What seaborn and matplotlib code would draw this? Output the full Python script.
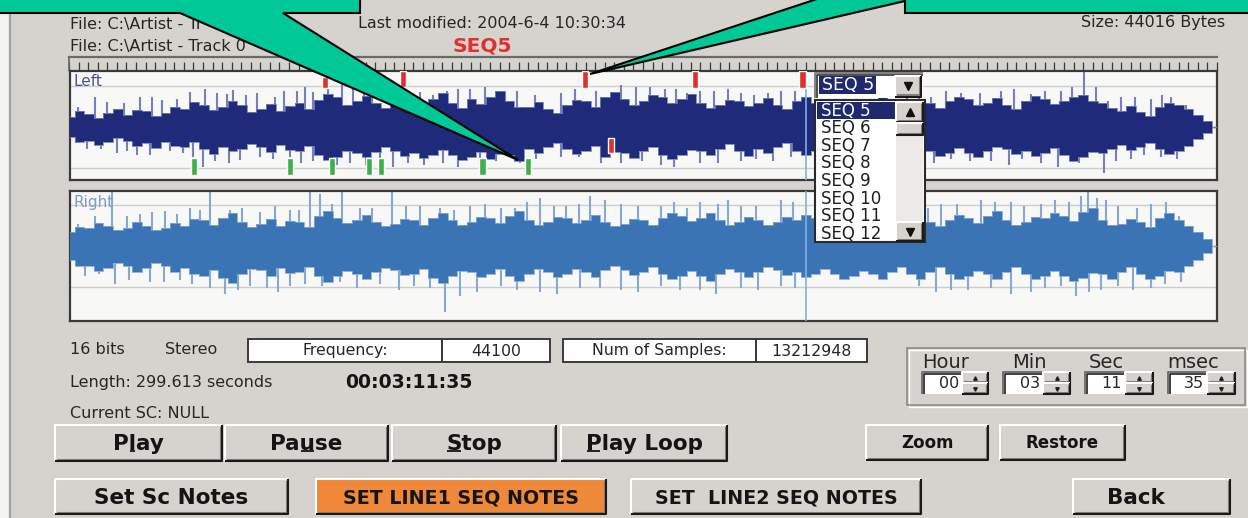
import numpy as np
import pandas as pd
import seaborn as sns
import matplotlib.pyplot as plt
from matplotlib.patches import Rectangle, Polygon
from matplotlib.ticker import MultipleLocator

# ---- values ----
# waveform envelope, one reading every 2.5 s of the 300 s track (amplitude in screen px)
left_upper = [10, 16, 13, 9, 14, 18, 12, 17, 16, 11, 14, 20, 18, 25, 22, 17, 20, 26, 22, 15,
              18, 23, 16, 21, 24, 18, 27, 33, 30, 22, 26, 31, 24, 19, 22, 28, 26, 21, 28, 34,
              24, 19, 28, 23, 30, 36, 26, 20, 20, 25, 18, 14, 22, 27, 26, 20, 30, 35, 28, 22,
              26, 32, 30, 24, 28, 33, 24, 19, 22, 27, 26, 21, 24, 29, 22, 18, 26, 30, 24, 19,
              22, 27, 24, 20, 26, 31, 24, 19, 22, 27, 24, 19, 26, 30, 28, 22, 24, 29, 22, 18,
              26, 31, 28, 23, 26, 30, 32, 26, 24, 19, 16, 21, 15, 11, 20, 24, 22, 18, 12, 6, 0]
left_lower = [10, 15, 14, 18, 15, 11, 14, 19, 16, 21, 15, 19, 20, 15, 22, 27, 20, 24, 22, 17,
              20, 25, 18, 23, 24, 19, 28, 33, 30, 24, 26, 30, 25, 20, 24, 29, 26, 31, 28, 23,
              28, 33, 30, 25, 32, 27, 28, 34, 22, 26, 20, 16, 22, 27, 24, 19, 30, 25, 26, 31,
              24, 20, 28, 32, 28, 23, 24, 28, 22, 17, 24, 29, 22, 26, 20, 16, 24, 28, 24, 20,
              22, 27, 24, 19, 26, 31, 24, 28, 24, 19, 24, 29, 26, 21, 26, 30, 24, 20, 22, 27,
              24, 29, 26, 21, 28, 34, 30, 25, 26, 22, 18, 23, 20, 16, 22, 27, 24, 19, 12, 6, 0]
right_upper = [14, 19, 18, 23, 20, 16, 18, 24, 20, 16, 18, 23, 20, 27, 26, 21, 28, 33, 24, 19,
               22, 27, 20, 25, 24, 19, 30, 35, 28, 23, 26, 31, 24, 20, 22, 27, 26, 21, 28, 33,
               26, 21, 24, 29, 28, 23, 30, 35, 26, 21, 24, 29, 28, 23, 26, 31, 24, 20, 22, 27,
               26, 21, 28, 33, 30, 25, 28, 33, 26, 21, 24, 29, 26, 21, 24, 29, 26, 31, 28, 23,
               30, 35, 28, 23, 26, 31, 28, 23, 26, 31, 24, 20, 26, 31, 28, 23, 30, 35, 26, 21,
               24, 29, 28, 33, 30, 25, 34, 38, 26, 21, 22, 27, 24, 19, 28, 33, 26, 20, 14, 7, 0]
right_lower = [14, 20, 20, 25, 22, 17, 20, 26, 22, 17, 20, 26, 22, 28, 30, 24, 32, 37, 28, 23,
               24, 30, 22, 27, 26, 21, 30, 36, 30, 25, 28, 33, 26, 22, 24, 29, 28, 23, 32, 37,
               30, 25, 26, 31, 28, 23, 30, 35, 28, 23, 26, 31, 28, 23, 26, 31, 24, 20, 24, 29,
               26, 21, 28, 33, 30, 25, 30, 35, 28, 23, 26, 31, 26, 21, 24, 29, 26, 31, 28, 23,
               28, 33, 30, 25, 28, 33, 26, 21, 28, 33, 26, 21, 28, 33, 30, 25, 28, 33, 26, 21,
               28, 33, 30, 25, 30, 35, 32, 27, 28, 33, 26, 21, 28, 33, 30, 25, 26, 20, 14, 7, 0]

# single peaks that stick out of the envelope (time s, height px)
left_up_t = [6.5, 9.7, 18.3, 24.1, 31.4, 35.3, 41.1, 42.7, 49.0, 53.7, 59.4, 61.5, 63.6, 71.2,
             74.1, 79.1, 91.6, 98.7, 104.7, 113.9, 128.3, 144.0, 151.8, 158.4, 164.9, 175.4,
             185.9, 225.1, 233.0, 243.5, 251.3, 259.2, 265.2, 268.3, 274.9, 282.7, 288.0,
             2.0, 14.0, 21.5, 28.0, 38.5, 46.0, 56.0, 67.5, 77.0, 84.0, 88.5, 95.0, 101.5,
             108.5, 117.0, 121.5, 132.0, 137.5, 148.0, 155.5, 161.5, 168.5, 172.0, 179.0,
             182.5, 189.5, 219.0, 222.0, 229.0, 238.0, 247.0, 255.0, 262.0, 271.5, 278.5,
             285.5, 292.0]
left_up_h = [30, 25, 30, 27, 35, 38, 33, 37, 34, 30, 36, 40, 35, 44, 38, 36, 35, 36, 38, 35,
             34, 42, 40, 38, 36, 34, 36, 30, 34, 36, 33, 36, 55, 40, 30, 28, 30,
             20, 24, 30, 28, 34, 32, 36, 40, 38, 34, 36, 32, 38, 40, 36, 32, 38, 36, 40, 38,
             34, 36, 38, 32, 34, 36, 34, 32, 36, 34, 38, 36, 40, 26, 30, 32, 22]
left_dn_t = [4.5, 12.3, 17.5, 26.2, 32.2, 34.8, 44.5, 49.7, 63.6, 69.9, 73.3, 84.6, 97.6, 107.3,
             117.8, 128.3, 144.0, 154.5, 164.9, 175.4, 188.5, 230.4, 240.8, 253.9, 270.4, 277.5,
             285.3, 1.5, 8.0, 15.0, 21.0, 29.5, 38.0, 41.5, 53.0, 57.5, 60.5, 66.5, 77.5, 81.0,
             88.5, 92.5, 101.5, 111.5, 122.0, 133.0, 139.0, 149.5, 158.0, 169.5, 179.5, 184.0,
             221.0, 226.0, 235.5, 245.5, 249.0, 258.5, 264.0, 273.5, 281.0, 289.5]
left_dn_h = [22, 26, 28, 24, 30, 40, 33, 30, 34, 38, 36, 40, 36, 38, 36, 30, 36, 38, 36, 34,
             30, 32, 34, 36, 46, 32, 30, 16, 22, 24, 28, 26, 34, 36, 32, 30, 36, 32, 38, 34,
             36, 38, 40, 34, 32, 30, 36, 34, 40, 36, 32, 34, 30, 36, 34, 38, 32, 40, 36, 34,
             28, 32]
right_up_t = [6.5, 11.0, 18.3, 24.9, 31.4, 36.6, 41.9, 49.7, 57.6, 62.8, 65.4, 71.2, 75.9, 84.3,
              91.6, 96.9, 104.7, 112.6, 123.0, 129.6, 136.1, 144.0, 154.5, 164.9, 175.4, 185.9,
              227.7, 238.2, 246.1, 253.9, 261.3, 264.4, 266.2, 270.9, 282.7, 286.6,
              2.0, 15.0, 21.5, 28.0, 34.0, 45.0, 53.5, 60.0, 68.5, 79.0, 88.0, 100.5, 108.5,
              116.5, 119.5, 126.5, 133.0, 140.0, 148.5, 158.0, 161.5, 169.5, 172.0, 179.5,
              189.0, 221.0, 224.5, 232.0, 242.0, 249.5, 257.5, 268.5, 274.0, 279.0, 290.0]
right_up_h = [30, 54, 32, 35, 38, 54, 36, 34, 36, 54, 52, 54, 38, 54, 40, 38, 40, 38, 48, 40,
              50, 42, 40, 44, 40, 46, 42, 46, 44, 42, 44, 50, 55, 46, 42, 44,
              22, 30, 34, 32, 36, 38, 40, 36, 42, 38, 40, 36, 42, 38, 44, 40, 42, 46, 40, 44,
              38, 42, 46, 40, 44, 40, 38, 42, 44, 40, 46, 48, 40, 38, 30]
right_dn_t = [3.9, 11.8, 20.9, 28.8, 36.6, 40.6, 47.1, 57.6, 70.7, 81.2, 94.2, 98.2, 102.1, 112.6,
              123.0, 133.5, 144.0, 154.5, 164.9, 175.4, 185.9, 230.4, 240.8, 251.3, 259.2, 263.1,
              269.6, 282.7, 290.6, 7.5, 15.5, 24.5, 32.0, 44.0, 51.5, 54.5, 61.5, 66.0, 75.0,
              86.0, 90.0, 106.5, 117.0, 127.5, 138.5, 148.5, 159.5, 169.0, 180.0, 189.5, 222.0,
              226.5, 235.0, 246.0, 255.0, 266.5, 274.0, 278.0, 286.5]
right_dn_h = [30, 38, 36, 34, 42, 48, 40, 40, 36, 38, 42, 66, 50, 40, 46, 42, 44, 40, 44, 42,
              40, 44, 42, 46, 40, 50, 44, 42, 36, 28, 34, 36, 38, 44, 42, 46, 38, 40, 42,
              44, 40, 46, 44, 48, 42, 46, 44, 48, 44, 42, 40, 46, 44, 48, 42, 46, 40, 44, 38]

# sequence note markers on the left channel
red_t = [66.8, 87.2, 134.8, 163.4, 191.6, 141.4]
red_lo = [39, 40, 39, 39, 39, -26]
red_hi = [50, 56, 56, 56, 56, -11]
green_t = [32.5, 57.6, 68.6, 78.3, 81.4, 107.9, 119.9]
green_lo = [-48, -48, -48, -48, -48, -48, -48]
green_hi = [-31, -31, -31, -31, -31, -31, -31]
cursor_t = 192.4

seq_items = ["SEQ 5", "SEQ 6", "SEQ 7", "SEQ 8", "SEQ 9", "SEQ 10", "SEQ 11", "SEQ 12"]
time_units = ["Hour", "Min", "Sec", "msec"]
time_values = ["00", "03", "11", "35"]

# ---- style ----
sns.set_theme(style="white")
plt.rcParams["font.family"] = ["DejaVu Sans"]

W, H = 1248, 518
BG = "#D6D3CE"
PANEL = "#F8F8F6"
GRID = "#CDCDCD"
NAVY = "#1F2A6E"
TEAL = "#00C896"
ORANGE = "#F0883A"
RED = "#E0302E"
GREEN = "#3DB04A"
TXT = "#262626"

fig = plt.figure(figsize=(W / 100, H / 100), dpi=100)
fig.patch.set_facecolor(BG)


def px_axes(x0, y0, x1, y1, z=1):
    return fig.add_axes([x0 / W, 1 - y1 / H, (x1 - x0) / W, (y1 - y0) / H], zorder=z)


def screen_axes(z):
    ax = fig.add_axes([0, 0, 1, 1], zorder=z)
    ax.set_xlim(0, W)
    ax.set_ylim(H, 0)
    ax.axis("off")
    return ax


def rect(ax, x0, y0, x1, y1, fc, ec="none", lw=0, z=1):
    ax.add_patch(Rectangle((x0, y0), x1 - x0, y1 - y0, facecolor=fc, edgecolor=ec, linewidth=lw, zorder=z))


def line(ax, xs, ys, c, lw, z=2):
    ax.plot(xs, ys, color=c, lw=lw, solid_capstyle="butt", zorder=z)


def raised(ax, x0, y0, x1, y1, face, z=1):
    rect(ax, x0, y0, x1, y1, face, z=z)
    line(ax, [x0, x0, x1], [y1, y0, y0], "white", 1.5, z + 1)
    line(ax, [x0 + 1.5, x1 - 1.5, x1 - 1.5], [y1 - 1.5, y1 - 1.5, y0 + 1.5], "#808080", 1.5, z + 1)
    line(ax, [x0, x1, x1], [y1, y1, y0], "#1A1A1A", 1.5, z + 1)


ui = screen_axes(0)
over = screen_axes(10)

# left window edge
rect(ui, 0, 0, 9, H, "#F3F3F1")
line(ui, [10, 10], [0, H], "#A4A4A4", 1.6)

# header
ui.text(70, 24, "File: C:\\Artist - Tr", fontsize=11.5, color=TXT, va="center")
ui.text(70, 46, "File: C:\\Artist - Track 0", fontsize=11.5, color=TXT, va="center")
ui.text(358, 23, "Last modified: 2004-6-4 10:30:34", fontsize=11.5, color=TXT, va="center")
ui.text(1225, 23, "Size: 44016 Bytes", fontsize=11.5, color=TXT, va="center", ha="right")
ui.text(453, 46, "SEQ5", fontsize=14.5, color=RED, weight="bold", va="center")

# ruler
ruler = px_axes(69, 57, 1217, 70, 1)
ruler.set_facecolor(BG)
ruler.set_xlim(0, 300)
ruler.set_yticks([])
for s in ("right", "bottom"):
    ruler.spines[s].set_visible(False)
ruler.spines["top"].set_color("#6A6A6A")
ruler.spines["top"].set_linewidth(1.6)
ruler.spines["left"].set_color("#6A6A6A")
ruler.xaxis.set_major_locator(MultipleLocator(2.5))
ruler.tick_params(axis="x", direction="in", length=5.5, width=0.9, color="#3A3A3A",
                  bottom=True, labelbottom=False)


def draw_channel(ax, upper, lower, up_t, up_h, dn_t, dn_h, body, spike, ylim, label, lcolor):
    df = pd.DataFrame({"t": np.linspace(0, 300, len(upper)), "up": upper,
                       "lo": [-v for v in lower]})
    ax.set_facecolor(PANEL)
    ax.set_xlim(0, 300)
    ax.set_ylim(*ylim)
    ax.axhline(41, color=GRID, lw=1, zorder=0)
    ax.axhline(-41, color=GRID, lw=1, zorder=0)
    ax.axhline(0, color=body, lw=1, zorder=1)
    ax.vlines(up_t, 0, up_h, color=spike, lw=1.5, zorder=2)
    ax.vlines(dn_t, [-h for h in dn_h], 0, color=spike, lw=1.5, zorder=2)
    ax.fill_between(df["t"], df["lo"], df["up"], step="mid", color=body, lw=0, zorder=3)
    sns.lineplot(data=df, x="t", y="up", drawstyle="steps-mid", estimator=None,
                 color=spike, lw=0.6, ax=ax, zorder=4)
    sns.lineplot(data=df, x="t", y="lo", drawstyle="steps-mid", estimator=None,
                 color=spike, lw=0.6, ax=ax, zorder=4)
    ax.axvline(cursor_t, color="#86AEE0", lw=1.2, zorder=5)
    ax.set(xlabel=None, ylabel=None, xticks=[], yticks=[])
    for s in ax.spines.values():
        s.set_color("#3A3A3A")
        s.set_linewidth(1.6)
    ax.text(0.003, 0.97, label, transform=ax.transAxes, fontsize=11, color=lcolor,
            va="top", ha="left", zorder=6)


left_ax = px_axes(70, 71, 1217, 180, 2)
draw_channel(left_ax, left_upper, left_lower, left_up_t, left_up_h, left_dn_t, left_dn_h,
             "#1F2B7A", "#7480C0", (-53, 56), "Left", "#4A5290")
left_ax.bar(red_t, [h - l for h, l in zip(red_hi, red_lo)], bottom=red_lo, width=1.6,
            color=RED, zorder=7)
left_ax.bar(green_t, [h - l for h, l in zip(green_hi, green_lo)], bottom=green_lo, width=1.6,
            color=GREEN, zorder=7)

right_ax = px_axes(70, 191, 1217, 321, 2)
draw_channel(right_ax, right_upper, right_lower, right_up_t, right_up_h, right_dn_t, right_dn_h,
             "#3A74B4", "#86A8D6", (-75, 55), "Right", "#7C9CC8")

# ---- combobox with open list ----
rect(over, 815, 73, 923, 98, "white", z=1)
line(over, [815, 815, 923], [98, 73, 73], "#808080", 1.4)
line(over, [816.5, 816.5, 923], [98, 74.5, 74.5], "#303030", 1.2)
rect(over, 819, 76, 876, 94, NAVY, z=2)
over.text(822, 85.5, seq_items[0], color="white", fontsize=12.5, va="center", zorder=3)
raised(over, 895, 75.5, 921, 96.5, BG, z=2)
over.plot(908, 86, marker="v", ms=6, color="#101010", zorder=4)

rect(over, 815, 100, 925, 242, "white", ec="#2A2A2A", lw=1.5, z=1)
rect(over, 817, 102, 896, 119, NAVY, z=2)
for i, item in enumerate(seq_items):
    over.text(821, 110.5 + i * 17.6, item, fontsize=12, va="center",
              color="white" if i == 0 else "#1E1E1E", zorder=3)
rect(over, 896, 102, 923, 241, "#ECEAE6", z=2)
raised(over, 896, 102, 923, 122, BG, z=3)
over.plot(909.5, 112, marker="^", ms=5.5, color="#101010", zorder=5)
raised(over, 896, 123, 923, 135, BG, z=3)
raised(over, 896, 222, 923, 241, BG, z=3)
over.plot(909.5, 231.5, marker="v", ms=5.5, color="#101010", zorder=5)

# ---- info line ----
ui.text(70, 349, "16 bits", fontsize=11.5, color=TXT, va="center")
ui.text(165, 349, "Stereo", fontsize=11.5, color=TXT, va="center")
cells = [(248, 442, "Frequency:"), (442, 550, "44100"), (563, 756, "Num of Samples:"),
         (756, 867, "13212948")]
for x0, x1, s in cells:
    rect(ui, x0, 339, x1, 362, "white", ec="#3A3A3A", lw=1.4, z=2)
    ui.text((x0 + x1) / 2, 351, s, fontsize=11.3, color=TXT, ha="center", va="center", zorder=3)
ui.text(70, 382, "Length: 299.613 seconds", fontsize=11.5, color=TXT, va="center")
ui.text(345, 383, "00:03:11:35", fontsize=13.6, weight="bold", color="#141414", va="center")
ui.text(70, 413, "Current SC: NULL", fontsize=11.5, color=TXT, va="center")

# ---- time group ----
rect(ui, 907, 348, 1245, 405, "none", ec="#8A8A8A", lw=1.2, z=2)
rect(ui, 908.5, 349.5, 1246.5, 406.5, "none", ec="white", lw=1.0, z=1)
label_x = [922, 1012, 1089, 1167]
field_x = [(922, 962, 988), (1003, 1043, 1070), (1085, 1125, 1153), (1168, 1207, 1235)]
for unit, val, lx, (a, b, c) in zip(time_units, time_values, label_x, field_x):
    ui.text(lx, 362, unit, fontsize=14, color=TXT, va="center")
    rect(ui, a, 372, b, 394, "white", z=2)
    line(ui, [a, a, b], [394, 372, 372], "#707070", 1.4, 3)
    line(ui, [a + 1.5, a + 1.5, b], [394, 373.5, 373.5], "#202020", 1.2, 3)
    ui.text(b - 3, 384, val, fontsize=11.5, color=TXT, ha="right", va="center", zorder=4)
    raised(ui, b, 372, c, 383, BG, z=2)
    raised(ui, b, 383, c, 394, BG, z=2)
    ui.plot((b + c) / 2, 378, marker="^", ms=2.5, color="#202020", zorder=5)
    ui.plot((b + c) / 2, 389, marker="v", ms=2.5, color="#202020", zorder=5)

# ---- buttons ----
buttons = [
    ("Play", 55, 425, 222, 461, BG, 15.5, 1, 0),
    ("Pause", 225, 425, 388, 461, BG, 15.5, 2, 0),
    ("Stop", 392, 425, 556, 461, BG, 15.5, 0, 0),
    ("Play Loop", 561, 425, 727, 461, BG, 15.5, 0, 0),
    ("Zoom", 866, 425, 988, 460, BG, 12, None, 0),
    ("Restore", 1000, 425, 1125, 460, BG, 12, None, 0),
    ("Set Sc Notes", 55, 479, 288, 514, BG, 15.5, None, 0),
    ("SET LINE1 SEQ NOTES", 316, 479, 606, 514, ORANGE, 13.7, None, 0),
    ("SET  LINE2 SEQ NOTES", 631, 479, 921, 514, BG, 13.7, None, 0),
    ("Back", 1073, 479, 1230, 514, BG, 15.5, None, -16),
]
renderer = fig.canvas.get_renderer()
for label, x0, y0, x1, y1, face, fs, u, dx in buttons:
    raised(ui, x0, y0, x1, y1, face, z=2)
    t = ui.text((x0 + x1) / 2 + dx, (y0 + y1) / 2 + 1, label, fontsize=fs, weight="bold",
                color="#141414", ha="center", va="center", zorder=4)
    if u is not None:
        bb = t.get_window_extent(renderer)
        tmp = ui.text(0, 0, label[:u + 1], fontsize=fs, weight="bold")
        w1 = tmp.get_window_extent(renderer).width
        w0 = 0
        if u > 0:
            tmp.set_text(label[:u])
            w0 = tmp.get_window_extent(renderer).width
        tmp.remove()
        uy = H - bb.y0 - 0.12 * fs * 100 / 72
        line(ui, [bb.x0 + w0 + 1, bb.x0 + w1 - 1], [uy, uy], "#141414", 1.3, 5)

# ---- callouts ----
left_callout = [(-2, -2), (360, -2), (360, 13), (283, 13), (518, 160), (180, 13), (-2, 13)]
right_callout = [(820, -2), (1250, -2), (1250, 13), (905, 13), (905, 1), (590, 74)]
for pts in (left_callout, right_callout):
    over.add_patch(Polygon(pts, closed=True, facecolor=TEAL, edgecolor="black", lw=1.5,
                           joinstyle="miter", zorder=30))

fig.savefig("out.png", dpi=100, facecolor=fig.get_facecolor())
